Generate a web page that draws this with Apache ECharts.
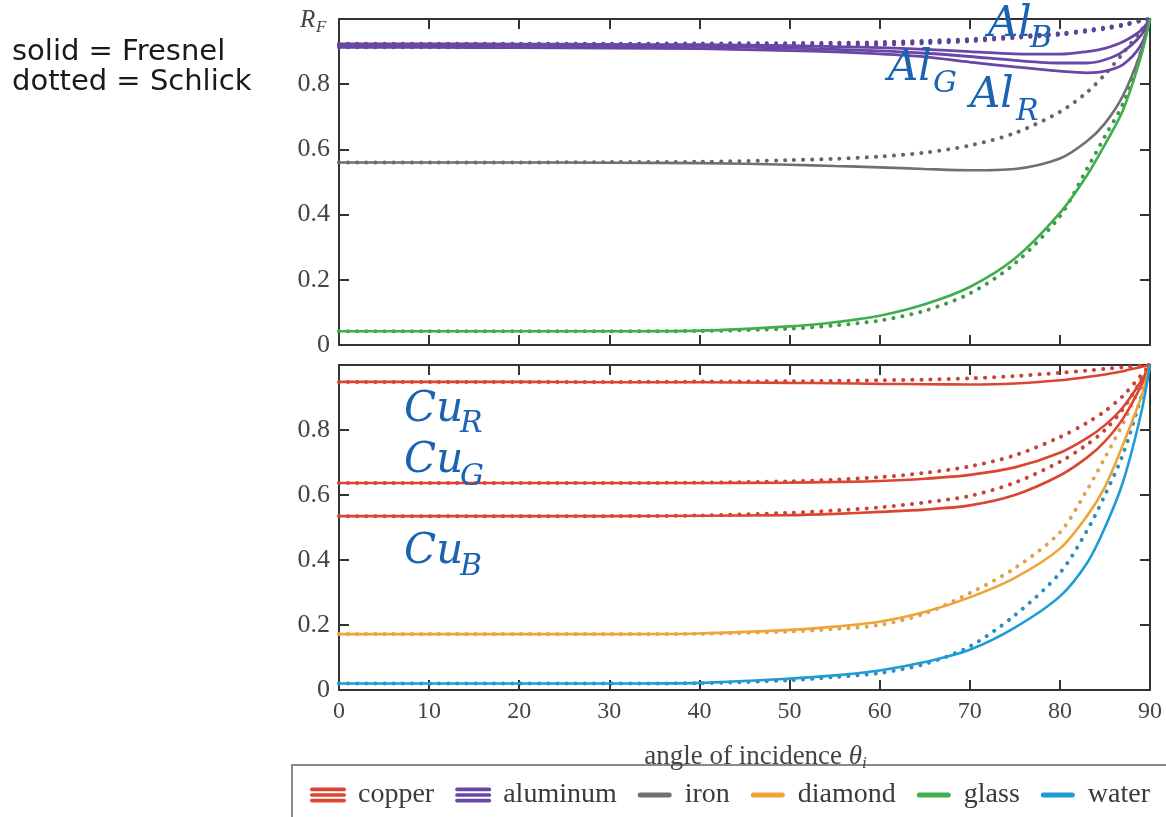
<!DOCTYPE html>
<html>
<head>
<meta charset="utf-8">
<script src="https://cdn.jsdelivr.net/npm/echarts@6/dist/echarts.min.js"></script>
<style>html,body{margin:0;padding:0;background:#fff;}#c{width:1166px;height:817px;}</style>
</head>
<body>
<div id="c"></div>
<script>
// ---- data ----
const angles = [0, 10, 20, 30, 40, 50, 55, 60, 65, 70, 75, 80, 83, 85, 87, 89, 90];
const xTicks = [0, 10, 20, 30, 40, 50, 60, 70, 80, 90];
const yTicks = [0, 0.2, 0.4, 0.6, 0.8, 1.0];
const legendNames = ['copper', 'aluminum', 'iron', 'diamond', 'glass', 'water'];

// top panel
const alRFresnel = [0.913,0.913,0.912,0.911,0.909,0.903,0.899,0.893,0.884,0.868,0.853,0.840,0.835,0.840,0.860,0.920,1.0];
const alGFresnel = [0.920,0.920,0.919,0.918,0.916,0.911,0.907,0.902,0.895,0.885,0.873,0.865,0.865,0.875,0.900,0.950,1.0];
const alBFresnel = [0.924,0.924,0.923,0.922,0.921,0.918,0.915,0.912,0.907,0.900,0.893,0.892,0.900,0.910,0.930,0.965,1.0];
const alRSchlick = [0.913,0.913,0.913,0.913,0.914,0.916,0.918,0.921,0.926,0.932,0.942,0.952,0.962,0.970,0.980,0.994,1.0];
const alGSchlick = [0.920,0.920,0.920,0.920,0.921,0.922,0.924,0.926,0.930,0.936,0.945,0.954,0.964,0.972,0.982,0.995,1.0];
const alBSchlick = [0.924,0.924,0.924,0.924,0.925,0.926,0.927,0.929,0.933,0.938,0.947,0.956,0.966,0.974,0.983,0.995,1.0];
const ironFresnel = [0.560,0.560,0.560,0.559,0.558,0.553,0.549,0.545,0.540,0.536,0.540,0.572,0.625,0.680,0.765,0.900,1.0];
const ironSchlick = [0.560,0.560,0.560,0.561,0.562,0.567,0.571,0.578,0.590,0.612,0.650,0.715,0.775,0.830,0.895,0.965,1.0];
const glassFresnel = [0.042,0.042,0.042,0.042,0.044,0.057,0.070,0.090,0.125,0.178,0.265,0.405,0.520,0.615,0.720,0.885,1.0];
const glassSchlick = [0.042,0.042,0.042,0.042,0.043,0.050,0.060,0.075,0.105,0.158,0.250,0.395,0.540,0.640,0.740,0.900,1.0];

// bottom panel
const cuRFresnel = [0.948,0.948,0.948,0.947,0.947,0.945,0.944,0.942,0.941,0.940,0.943,0.953,0.963,0.971,0.981,0.994,1.0];
const cuRSchlick = [0.948,0.948,0.948,0.948,0.949,0.950,0.951,0.953,0.955,0.959,0.966,0.976,0.983,0.988,0.993,0.998,1.0];
const cuGFresnel = [0.637,0.637,0.637,0.637,0.637,0.638,0.640,0.643,0.650,0.662,0.685,0.730,0.775,0.815,0.870,0.950,1.0];
const cuGSchlick = [0.637,0.637,0.637,0.637,0.638,0.642,0.647,0.655,0.668,0.688,0.722,0.778,0.822,0.858,0.905,0.968,1.0];
const cuBFresnel = [0.535,0.535,0.535,0.535,0.536,0.538,0.542,0.548,0.555,0.568,0.600,0.660,0.715,0.765,0.835,0.935,1.0];
const cuBSchlick = [0.535,0.535,0.535,0.535,0.537,0.545,0.552,0.562,0.577,0.597,0.638,0.702,0.755,0.800,0.865,0.952,1.0];
const diamondFresnel = [0.172,0.172,0.172,0.172,0.174,0.185,0.195,0.210,0.240,0.285,0.345,0.435,0.535,0.625,0.755,0.900,1.0];
const diamondSchlick = [0.172,0.172,0.172,0.172,0.173,0.180,0.188,0.200,0.235,0.298,0.375,0.485,0.615,0.715,0.820,0.940,1.0];
const waterFresnel = [0.020,0.020,0.020,0.020,0.022,0.035,0.045,0.060,0.086,0.124,0.192,0.288,0.390,0.500,0.640,0.850,1.0];
const waterSchlick = [0.020,0.020,0.020,0.020,0.021,0.030,0.040,0.052,0.080,0.134,0.230,0.360,0.490,0.600,0.725,0.900,1.0];

// ---- styling ----
const colors = {copper:'#dc4531', aluminum:'#6a46a6', iron:'#707070', diamond:'#eea436', glass:'#3fae4c', water:'#1f9bd5'};
const dotColors = {copper:'#c8443a', aluminum:'#5e4496', iron:'#666666', diamond:'#e0a24a', glass:'#3c9a4a', water:'#2a8fbf'};
const serif = "'Liberation Serif', 'DejaVu Serif', serif";
const annotBlue = '#1a63b3';

function pairs(vals){ return angles.map((a,i)=>[a, vals[i]]); }
function solid(name, vals, panel, w){
  return {type:'line', name, xAxisIndex: panel*2, yAxisIndex: panel*2, data: pairs(vals),
    symbol:'none', smooth:0.3, silent:true, z:3, color: colors[name],
    lineStyle:{color: colors[name], width: w || 2.6}};
}
function dotted(name, vals, panel){
  return {type:'line', name, xAxisIndex: panel*2, yAxisIndex: panel*2, data: pairs(vals),
    symbol:'none', smooth:0.3, silent:true, z:2, color: colors[name],
    lineStyle:{color: dotColors[name], width: 4, type:[0.1, 9], cap:'round'}};
}

const axisLineStyle = {color:'#333', width:2};
function xAx(grid, pos, labels){
  const a = {type:'value', gridIndex:grid, position:pos, min:0, max:90, interval:10,
    axisLine:{show:true, onZero:false, lineStyle:axisLineStyle},
    axisTick:{show:true, inside:true, length:10, lineStyle:axisLineStyle},
    splitLine:{show:false},
    axisLabel:{show:labels, color:'#444', fontFamily:serif, fontSize:24, margin:10}};
  if (labels){
    a.name = '{n|angle of incidence }{t|θ}{s|i}';
    a.nameLocation = 'middle';
    a.nameGap = 52;
    a.nameTextStyle = {color:'#444', fontFamily:serif, fontSize:27, padding:[0,0,0,22],
      rich:{n:{fontFamily:serif, fontSize:27, color:'#444'},
            t:{fontFamily:serif, fontSize:27, fontStyle:'italic', color:'#444'},
            s:{fontFamily:serif, fontSize:17, fontStyle:'italic', color:'#444', padding:[13,0,0,0]}}};
  }
  return a;
}
function yAx(grid, pos, labels){
  return {type:'value', gridIndex:grid, position:pos, min:0, max:1, interval:0.2,
    axisLine:{show:true, onZero:false, lineStyle:axisLineStyle},
    axisTick:{show:true, inside:true, length:10, lineStyle:axisLineStyle},
    splitLine:{show:false},
    axisLabel:{show:labels, color:'#444', fontFamily:serif, fontSize:26, margin:9,
      formatter: v => (v >= 0.999 ? '' : (v === 0 ? '0' : v.toFixed(1)))}};
}

const triple = 'path://M2,0H37A2,2,0,0,1,37,4H2A2,2,0,0,1,2,0ZM2,6H37A2,2,0,0,1,37,10H2A2,2,0,0,1,2,6ZM2,12H37A2,2,0,0,1,37,16H2A2,2,0,0,1,2,12Z';
const single = 'path://M17,0h0.01v0.01h-0.01Z M17,15.99h0.01v0.01h-0.01Z M2.5,5.5H31.5A2.5,2.5,0,0,1,31.5,10.5H2.5A2.5,2.5,0,0,1,2.5,5.5Z';

function label(x, y, txt, size){
  return {type:'text', x, y, silent:true, z:10,
    style:{text:txt, fill:annotBlue, fontFamily:"'DejaVu Serif', serif", fontStyle:'italic', fontSize:size, verticalAlign:'middle', align:'left'}};
}

const option = {
  animation:false,
  backgroundColor:'#ffffff',
  grid:[
    {left:339, top:19, width:811, height:326},
    {left:339, top:365, width:811, height:325}
  ],
  xAxis:[xAx(0,'bottom',false), xAx(0,'top',false), xAx(1,'bottom',true), xAx(1,'top',false)],
  yAxis:[yAx(0,'left',true), yAx(0,'right',false), yAx(1,'left',true), yAx(1,'right',false)],
  legend:{
    left:305, top:776, orient:'horizontal', itemGap:21, itemWidth:36, itemHeight:16,
    selectedMode:false,
    textStyle:{fontFamily:serif, fontSize:28, color:'#3a3a3a', padding:[0,0,0,7]},
    data: legendNames.map(n => ({name:n, icon: (n==='copper'||n==='aluminum') ? triple : single,
      itemStyle:{color: colors[n]}}))
  },
  series:[
    solid('aluminum', alRFresnel, 0, 2.8), solid('aluminum', alGFresnel, 0, 2.8), solid('aluminum', alBFresnel, 0, 2.8),
    dotted('aluminum', alRSchlick, 0), dotted('aluminum', alGSchlick, 0), dotted('aluminum', alBSchlick, 0),
    solid('iron', ironFresnel, 0), dotted('iron', ironSchlick, 0),
    solid('glass', glassFresnel, 0), dotted('glass', glassSchlick, 0),
    solid('copper', cuRFresnel, 1), solid('copper', cuGFresnel, 1), solid('copper', cuBFresnel, 1),
    dotted('copper', cuRSchlick, 1), dotted('copper', cuGSchlick, 1), dotted('copper', cuBSchlick, 1),
    solid('diamond', diamondFresnel, 1), dotted('diamond', diamondSchlick, 1),
    solid('water', waterFresnel, 1), dotted('water', waterSchlick, 1)
  ],
  graphic:[
    {type:'rect', silent:true, z:0, shape:{x:292, y:765, width:900, height:70},
      style:{fill:'#fff', stroke:'#8a8a8a', lineWidth:2}},
    {type:'text', x:12, y:52, silent:true, style:{text:'solid = Fresnel', fill:'#1a1a1a', fontFamily:"'DejaVu Sans', sans-serif", fontSize:29, verticalAlign:'middle'}},
    {type:'text', x:12, y:82, silent:true, style:{text:'dotted = Schlick', fill:'#1a1a1a', fontFamily:"'DejaVu Sans', sans-serif", fontSize:29, verticalAlign:'middle'}},
    {type:'text', x:300, y:20, silent:true, style:{text:'R', fill:'#444', fontFamily:serif, fontStyle:'italic', fontSize:25, verticalAlign:'middle'}},
    {type:'text', x:316, y:28, silent:true, style:{text:'F', fill:'#444', fontFamily:serif, fontStyle:'italic', fontSize:17, verticalAlign:'middle'}},
    label(988, 25, 'Al', 42), label(1030, 39, 'B', 30),
    label(888, 69, 'Al', 42), label(933, 84, 'G', 30),
    label(970, 96, 'Al', 42), label(1016, 112, 'R', 30),
    label(404, 410, 'Cu', 42), label(460, 424, 'R', 30),
    label(404, 461, 'Cu', 42), label(460, 477, 'G', 30),
    label(404, 552, 'Cu', 42), label(460, 567, 'B', 30)
  ]
};
const chart = echarts.init(document.getElementById('c'), null, {renderer:'canvas'});
chart.setOption(option);
</script>
</body>
</html>
